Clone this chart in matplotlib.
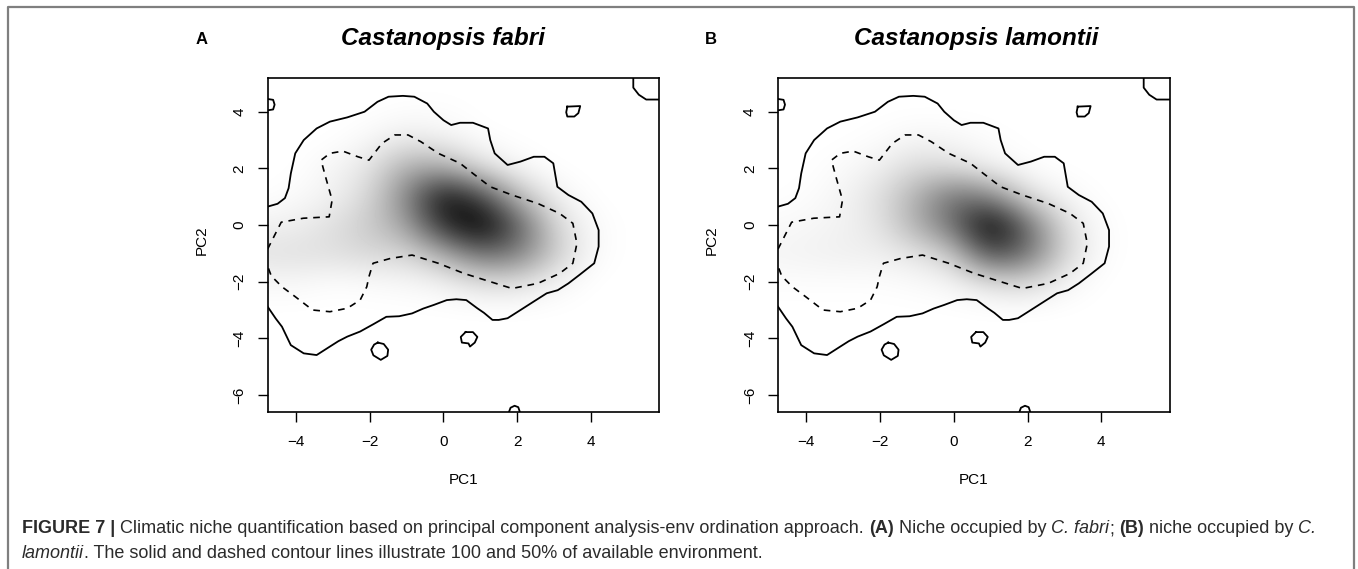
import numpy as np
import matplotlib.pyplot as plt
from matplotlib.lines import Line2D
from matplotlib.transforms import IdentityTransform

plt.rcParams['font.family'] = ['Liberation Sans', 'DejaVu Sans']

W, H = 1358, 569

# occupancy density on a 1-unit grid (0 = white, 1 = black)
Grid_X = [-5, -4, -3, -2, -1, 0, 1, 2, 3, 4, 5, 6]
Grid_Y = [5, 4, 3, 2, 1, 0, -1, -2, -3, -4, -5, -6, -7]

Density_A = [
    [0, 0, 0, 0, 0, 0, 0, 0, 0, 0, 0, 0],
    [0, 0, 0, 0, .01, .01, 0, 0, 0, 0, 0, 0],
    [0, 0, 0, .03, .08, .05, .01, 0, 0, 0, 0, 0],
    [0, 0, .04, .10, .32, .32, .12, .03, 0, 0, 0, 0],
    [0, .02, .05, .15, .45, .92, .70, .25, .05, 0, 0, 0],
    [.05, .06, .12, .20, .35, .80, 1.0, .62, .15, .02, 0, 0],
    [.11, .12, .12, .15, .15, .30, .55, .50, .20, .02, 0, 0],
    [.03, .03, .01, .02, .03, .05, .12, .12, .04, 0, 0, 0],
    [0, 0, 0, 0, 0, 0, 0, 0, 0, 0, 0, 0],
    [0, 0, 0, 0, 0, 0, 0, 0, 0, 0, 0, 0],
    [0, 0, 0, 0, 0, 0, 0, 0, 0, 0, 0, 0],
    [0, 0, 0, 0, 0, 0, 0, 0, 0, 0, 0, 0],
    [0, 0, 0, 0, 0, 0, 0, 0, 0, 0, 0, 0],
]

Density_B = [
    [0, 0, 0, 0, 0, 0, 0, 0, 0, 0, 0, 0],
    [0, 0, 0, 0, 0, 0, 0, 0, 0, 0, 0, 0],
    [0, 0, 0, .01, .04, .03, .01, 0, 0, 0, 0, 0],
    [0, 0, .02, .06, .15, .12, .05, .01, 0, 0, 0, 0],
    [0, .01, .04, .12, .30, .55, .45, .12, .03, 0, 0, 0],
    [.02, .03, .05, .10, .30, .55, 1.0, .55, .12, .01, 0, 0],
    [.04, .05, .06, .06, .10, .20, .70, .55, .15, .01, 0, 0],
    [.01, .01, .01, .01, .02, .04, .12, .15, .04, 0, 0, 0],
    [0, 0, 0, 0, 0, 0, 0, 0, 0, 0, 0, 0],
    [0, 0, 0, 0, 0, 0, 0, 0, 0, 0, 0, 0],
    [0, 0, 0, 0, 0, 0, 0, 0, 0, 0, 0, 0],
    [0, 0, 0, 0, 0, 0, 0, 0, 0, 0, 0, 0],
    [0, 0, 0, 0, 0, 0, 0, 0, 0, 0, 0, 0],
]

# 100% available environment (solid), same in both panels
Solid_X = [-4.77, -4.5, -4.3, -4.2, -4.14, -4.02, -3.79, -3.44, -3.08, -2.61, -2.14, -1.79,
           -1.49, -1.1, -0.79, -0.44, -0.26, 0.0, 0.21, 0.45, 0.8, 1.21, 1.27, 1.39, 1.74,
           2.09, 2.45, 2.74, 2.98, 3.09, 3.39, 3.74, 4.04, 4.21, 4.21, 4.09, 3.7, 3.39, 3.1,
           2.8, 2.45, 2.09, 1.74, 1.5, 1.33, 1.1, 0.92, 0.62, 0.35, 0.09, -0.26, -0.55,
           -0.85, -1.2, -1.55, -1.9, -2.26, -2.61, -2.85, -3.08, -3.44, -3.79, -4.14, -4.38,
           -4.55, -4.77]
Solid_Y = [0.65, 0.75, 0.95, 1.3, 1.82, 2.53, 3.0, 3.41, 3.65, 3.8, 4.0, 4.35,
           4.53, 4.56, 4.53, 4.29, 4.0, 3.7, 3.53, 3.61, 3.61, 3.41, 3.0, 2.53, 2.12,
           2.24, 2.41, 2.41, 2.18, 1.35, 1.06, 0.82, 0.41, -0.18, -0.76, -1.35, -1.75, -2.06, -2.3,
           -2.41, -2.7, -3.0, -3.29, -3.35, -3.35, -3.1, -2.94, -2.65, -2.62, -2.65, -2.82, -2.95,
           -3.12, -3.22, -3.24, -3.5, -3.76, -3.94, -4.1, -4.29, -4.59, -4.53, -4.24, -3.59,
           -3.3, -2.88]

Corner_TL_X = [-4.77, -4.62, -4.58, -4.62, -4.77]
Corner_TL_Y = [4.45, 4.42, 4.25, 4.08, 4.05]
Corner_TR_X = [5.15, 5.15, 5.3, 5.5, 5.85]
Corner_TR_Y = [5.18, 4.85, 4.6, 4.43, 4.43]
Island_1_X = [3.36, 3.71, 3.66, 3.55, 3.36, 3.33, 3.36]
Island_1_Y = [4.18, 4.2, 3.95, 3.83, 3.83, 3.98, 4.18]
Island_2_X = [-1.78, -1.62, -1.5, -1.52, -1.7, -1.9, -1.96, -1.88, -1.78]
Island_2_Y = [-4.15, -4.2, -4.4, -4.62, -4.76, -4.6, -4.4, -4.22, -4.15]
Island_3_X = [0.6, 0.8, 0.92, 0.85, 0.72, 0.68, 0.5, 0.47, 0.6]
Island_3_Y = [-3.78, -3.78, -3.95, -4.15, -4.29, -4.18, -4.15, -3.95, -3.78]
Island_4_X = [1.78, 1.82, 1.93, 2.03, 2.07]
Island_4_Y = [-6.59, -6.45, -6.38, -6.43, -6.59]

# 50% available environment (dashed)
Dashed_X = [-4.77, -4.4, -3.8, -3.1, -3.02, -3.2, -3.32, -3.08, -2.73, -2.32, -2.02, -1.67,
            -1.32, -0.96, -0.61, -0.14, 0.45, 0.8, 1.27, 1.86, 2.56, 3.15, 3.51, 3.62, 3.51,
            3.15, 2.56, 1.86, 1.27, 0.56, -0.14, -0.85, -1.44, -1.91, -2.02, -2.08, -2.26,
            -2.61, -3.08, -3.55, -4.02, -4.38, -4.67, -4.77]
Dashed_Y = [-0.85, 0.1, 0.24, 0.29, 0.88, 1.71, 2.29, 2.53, 2.61, 2.41, 2.29, 2.88,
            3.18, 3.18, 2.94, 2.53, 2.18, 1.82, 1.35, 1.06, 0.76, 0.41, 0.06, -0.65, -1.35,
            -1.71, -2.06, -2.24, -2.0, -1.71, -1.35, -1.06, -1.18, -1.35, -1.82, -2.18, -2.65,
            -2.94, -3.06, -3.0, -2.53, -2.18, -1.8, -1.45]

Titles = ["Castanopsis fabri", "Castanopsis lamontii"]
Letters = ["A", "B"]

fig = plt.figure(figsize=(W / 100, H / 100), dpi=100)

panels = [
    (Density_A, 267.6, 443.4, 201.7),
    (Density_B, 778.0, 976.0, 711.2),
]
extent = (Grid_X[0] - 0.5, Grid_X[-1] + 0.5, Grid_Y[-1] - 0.5, Grid_Y[0] + 0.5)

for i, (dens, left, title_x, letter_x) in enumerate(panels):
    ax = fig.add_axes([left / W, (H - 411.7) / H, 391.5 / W, 333.4 / H])
    ax.imshow(np.array(dens), cmap='gray_r', vmin=0, vmax=0.95, extent=extent,
              origin='upper', interpolation='bicubic', aspect='auto')
    ax.plot(Solid_X, Solid_Y, color='black', lw=1.3)
    for xs, ys in [(Corner_TL_X, Corner_TL_Y), (Corner_TR_X, Corner_TR_Y),
                   (Island_1_X, Island_1_Y), (Island_2_X, Island_2_Y),
                   (Island_3_X, Island_3_Y), (Island_4_X, Island_4_Y)]:
        ax.plot(xs, ys, color='black', lw=1.3)
    ax.plot(Dashed_X, Dashed_Y, color='black', lw=1.2, dashes=(4, 3.5))
    ax.set_xlim(-4.77, 5.85)
    ax.set_ylim(-6.59, 5.18)
    ax.set_xticks([-4, -2, 0, 2, 4])
    ax.set_yticks([-6, -4, -2, 0, 2, 4])
    ax.tick_params(direction='out', length=7, width=1, labelsize=11)
    ax.tick_params(axis='x', pad=9.5)
    ax.tick_params(axis='y', pad=8.1)
    for lab in ax.get_yticklabels():
        lab.set_rotation(90)
        lab.set_va('center')
        lab.set_ha('right')
    for sp in ax.spines.values():
        sp.set_linewidth(1.2)
    ax.set_xlabel("PC1", fontsize=11)
    ax.xaxis.set_label_coords(0.5, -68 / 333.4)
    ax.xaxis.label.set_va('center')
    ax.set_ylabel("PC2", fontsize=11)
    ax.yaxis.set_label_coords(-66 / 391.5, 0.5 + 5 / 333.4)
    ax.yaxis.label.set_va('center')

    fig.text(title_x / W, (H - 45) / H, Titles[i], fontsize=17.5, fontweight='bold',
             fontstyle='italic', ha='center', va='baseline')
    fig.text(letter_x / W, (H - 44) / H, Letters[i], fontsize=12, fontweight='bold',
             ha='center', va='baseline')

# grey frame round the figure, open at the bottom
fig.add_artist(Line2D([8, 8, 1354, 1354], [-5, H - 7, H - 7, -5], transform=IdentityTransform(),
                      color='#7f7f7f', lw=1.6))

# caption in mixed styles
cap_1 = [("FIGURE 7 |", 'bold', 'normal', True),
         ("Climatic niche quantification based on principal component analysis-env ordination approach.",
          'normal', 'normal', True),
         ("(A)", 'bold', 'normal', True),
         ("Niche occupied by", 'normal', 'normal', True),
         ("C. fabri", 'normal', 'italic', False),
         (";", 'normal', 'normal', True),
         ("(B)", 'bold', 'normal', True),
         ("niche occupied by", 'normal', 'normal', True),
         ("C.", 'normal', 'italic', False)]
cap_2 = [("lamontii", 'normal', 'italic', False),
         (". The solid and dashed contour lines illustrate 100 and 50% of available environment.",
          'normal', 'normal', False)]

renderer = fig.canvas.get_renderer()


def draw_runs(runs, x0, y0, size):
    made = []
    sp = fig.text(0, 0, "x x", fontsize=size, transform=IdentityTransform())
    sp2 = fig.text(0, 0, "xx", fontsize=size, transform=IdentityTransform())
    space = sp.get_window_extent(renderer).width - sp2.get_window_extent(renderer).width
    sp.remove()
    sp2.remove()
    x = x0
    for text, weight, style, gap in runs:
        t = fig.text(x, y0, text, fontsize=size, fontweight=weight, fontstyle=style,
                     color='#2b2b2b', ha='left', va='baseline', transform=IdentityTransform())
        made.append(t)
        x += t.get_window_extent(renderer).width
        if gap:
            x += space
    return made, x - x0


made, width = draw_runs(cap_1, 22, H - 533.3, 12)
for t in made:
    t.remove()
size = 12 * 1301 / width
draw_runs(cap_1, 22, H - 533.3, size)
draw_runs(cap_2, 22, H - 557.7, size)

fig.savefig("out.png", dpi=100)
